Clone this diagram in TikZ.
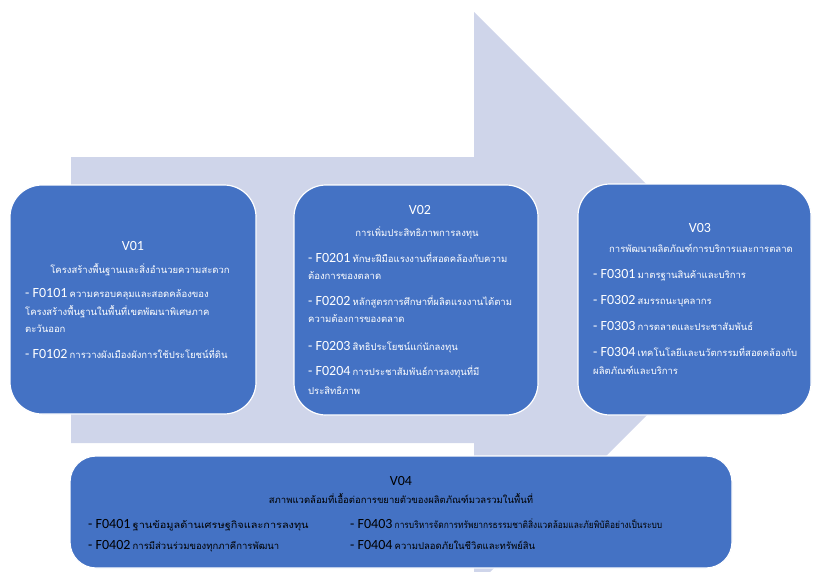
\documentclass[tikz,border=0pt]{standalone}
\usepackage{fontspec}
\usepackage{graphicx}
\setmainfont{Carlito}
\newfontfamily\thaifont[Script=Thai]{Loma}
\definecolor{boxblue}{HTML}{4472C4}
\definecolor{arrowfill}{HTML}{CFD5EA}
\newcommand{\thx}[1]{{\thaifont\fontsize{9.5}{11}\selectfont #1}}
\newcommand{\fitem}[2]{{\fontsize{14}{16}\selectfont - #1} \thx{#2}}
\newcommand{\fitemx}[3]{{\fontsize{14}{16}\selectfont - #1} \scalebox{#3}[1]{\thx{#2}}}
\begin{document}
\begin{tikzpicture}[x=1pt,y=-1pt,
  vbox/.style={draw=white,line width=1.2pt,fill=boxblue,rounded corners=32pt},
  wtxt/.style={anchor=base west,inner sep=0pt,text=white},
  btxt/.style={anchor=base west,inner sep=0pt,text=black},
  ttl/.style={anchor=base,inner sep=0pt,font=\fontsize{14}{16}\selectfont},
  sub/.style={anchor=base,inner sep=0pt}]
\useasboundingbox (0,0) rectangle (813,571);
\begin{scope}
\clip (0,0) rectangle (813,571);
\fill[arrowfill] (71,157) -- (474,157) -- (474,12) -- (762,300) -- (474,588) -- (474,443) -- (71,443) -- cycle;
\end{scope}
% boxes
\draw[vbox] (10,185) rectangle (256,414);
\draw[vbox] (294,185) rectangle (538,415);
\draw[vbox] (578,184) rectangle (811,415);
\draw[vbox,rounded corners=26pt] (70,456) rectangle (732,568);
% V01
\node[ttl,text=white] (t1) at (133,250) {V01};
\node[sub,text=white] (s1) at (140,273) {\thx{โครงสร้างพื้นฐานและสิ่งอำนวยความสะดวก}};
\node[wtxt] (a1) at (25,297) {\fitem{F0101}{ความครอบคลุมและสอดคล้องของ}};
\node[wtxt] (a2) at (25,315) {\thx{โครงสร้างพื้นฐานในพื้นที่เขตพัฒนาพิเศษภาค}};
\node[wtxt] (a3) at (25,332) {\thx{ตะวันออก}};
\node[wtxt] (a4) at (25,358) {\fitem{F0102}{การวางผังเมืองผังการใช้ประโยชน์ที่ดิน}};
% V02
\node[ttl,text=white] (t2) at (420,214) {V02};
\node[sub,text=white] (s2) at (417,236) {\thx{การเพิ่มประสิทธิภาพการลงทุน}};
\node[wtxt] (b1) at (308,262) {\fitem{F0201}{ทักษะฝีมือแรงงานที่สอดคล้องกับความ}};
\node[wtxt] (b2) at (308,279) {\thx{ต้องการของตลาด}};
\node[wtxt] (b3) at (308,305) {\fitem{F0202}{หลักสูตรการศึกษาที่ผลิตแรงงานได้ตาม}};
\node[wtxt] (b4) at (308,322) {\thx{ความต้องการของตลาด}};
\node[wtxt] (b5) at (308,350) {\fitem{F0203}{สิทธิประโยชน์แก่นักลงทุน}};
\node[wtxt] (b6) at (308,375) {\fitem{F0204}{การประชาสัมพันธ์การลงทุนที่มี}};
\node[wtxt] (b7) at (308,394) {\thx{ประสิทธิภาพ}};
% V03
\node[ttl,text=white] (t3) at (700,232) {V03};
\node[sub,text=white] (s3) at (701,252) {\thx{การพัฒนาผลิตภัณฑ์การบริการและการตลาด}};
\node[wtxt] (c1) at (593,278) {\fitem{F0301}{มาตรฐานสินค้าและบริการ}};
\node[wtxt] (c2) at (593,304) {\fitem{F0302}{สมรรถนะบุคลากร}};
\node[wtxt] (c3) at (593,330) {\fitem{F0303}{การตลาดและประชาสัมพันธ์}};
\node[wtxt] (c4) at (593,356) {\fitem{F0304}{เทคโนโลยีและนวัตกรรมที่สอดคล้องกับ}};
\node[wtxt] (c5) at (593,374) {\thx{ผลิตภัณฑ์และบริการ}};
% V04
\node[ttl,text=black] (t4) at (401,485) {V04};
\node[sub,text=black] (s4) at (401,503) {\thx{สภาพแวดล้อมที่เอื้อต่อการขยายตัวของผลิตภัณฑ์มวลรวมในพื้นที่}};
\node[btxt] (d1) at (88,528) {\fitemx{F0401}{ฐานข้อมูลด้านเศรษฐกิจและการลงทุน}{1.15}};
\node[btxt] (d2) at (88,549) {\fitem{F0402}{การมีส่วนร่วมของทุกภาคีการพัฒนา}};
\node[btxt] (d3) at (350,528) {\fitemx{F0403}{การบริหารจัดการทรัพยากรธรรมชาติสิ่งแวดล้อมและภัยพิบัติอย่างเป็นระบบ}{0.88}};
\node[btxt] (d4) at (350,549) {\fitem{F0404}{ความปลอดภัยในชีวิตและทรัพย์สิน}};
\end{tikzpicture}
\end{document}
